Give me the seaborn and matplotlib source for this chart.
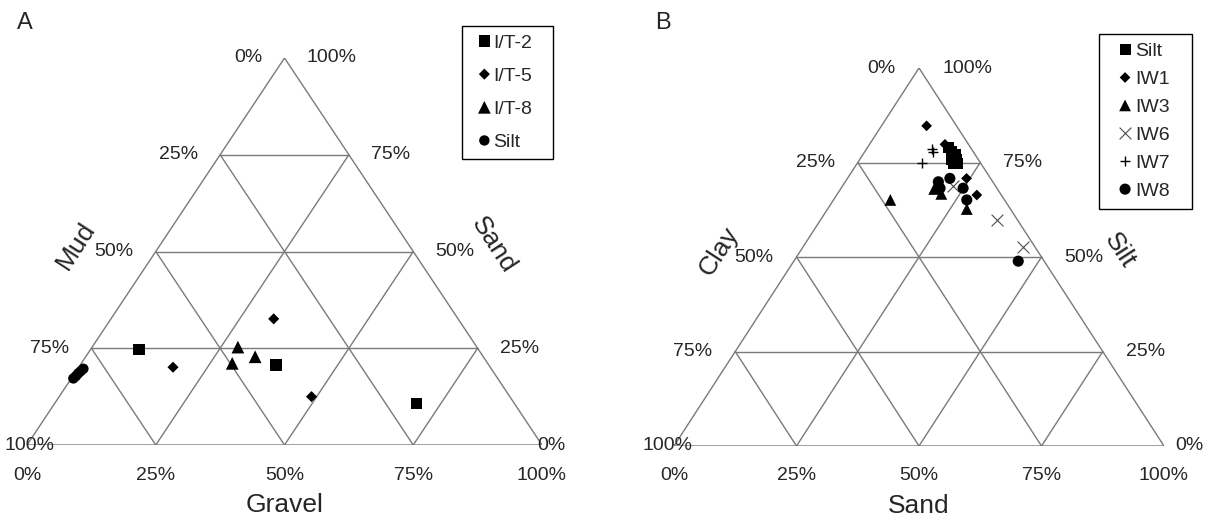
import matplotlib
matplotlib.use("Agg")
import matplotlib.pyplot as plt
import numpy as np
import pandas as pd
import seaborn as sns

# ---------------- Panel A: gravel / sand / mud (%) ----------------
it2_gravel = [9.4, 38.0, 70.3]
it2_sand = [24.7, 20.7, 10.8]
it2_mud = [65.9, 41.3, 18.9]

it5_gravel = [31.6, 18.3, 49.0]
it5_sand = [32.6, 20.1, 12.5]
it5_mud = [35.8, 61.6, 38.5]

it8_gravel = [28.3, 32.9, 29.3]
it8_sand = [25.3, 22.8, 21.1]
it8_mud = [46.4, 44.3, 49.6]

siltA_gravel = [0.4, 0.6, 0.7, 0.9, 1.1]
siltA_sand = [17.2, 17.8, 18.5, 19.1, 19.7]
siltA_mud = [82.4, 81.6, 80.8, 80.0, 79.2]

# ---------------- Panel B: sand / silt / clay (%) ----------------
siltB_sand = [16.5, 17.7, 18.9, 19.9, 18.8, 20.4, 19.6]
siltB_silt = [79.0, 77.9, 77.0, 75.7, 75.7, 74.8, 74.8]
siltB_clay = [4.5, 4.4, 4.1, 4.4, 5.5, 4.8, 5.6]

iw1_sand = [9.2, 15.4, 24.3, 28.6]
iw1_silt = [84.7, 79.8, 70.8, 66.4]
iw1_clay = [6.1, 4.8, 4.9, 5.0]

iw3_sand = [11.6, 19.1, 21.2, 28.4]
iw3_silt = [65.1, 68.0, 66.7, 62.7]
iw3_clay = [23.3, 12.9, 12.1, 8.9]

iw6_sand = [22.6, 35.9, 44.8]
iw6_silt = [68.8, 59.9, 52.7]
iw6_clay = [8.6, 4.2, 2.5]

iw7_sand = [13.3, 14.1, 13.2]
iw7_silt = [78.7, 77.7, 74.8]
iw7_clay = [8.0, 8.2, 12.0]

iw8_sand = [20.9, 19.0, 20.2, 24.9, 27.2, 45.8]
iw8_silt = [70.8, 69.9, 68.2, 68.2, 65.1, 48.9]
iw8_clay = [8.3, 11.1, 11.6, 6.9, 7.7, 5.3]

tick_pct = [0, 25, 50, 75, 100]
grid_pct = [25, 50, 75]

# ---------------- styling ----------------
sns.set_style("white")
plt.rcParams["font.family"] = ["Liberation Sans", "DejaVu Sans"]

W, H = 1207, 519
PT = 72 / 100            # points per pixel at 100 dpi
GRID = "#7a7a7a"
LW = 1.0
TICK_FS = 14
NAME_FS = 19
LEG_FS = 14


def ternary_xy(right, top, left):
    """Barycentric -> cartesian for a unit-base triangle (left, right, top vertices)."""
    right = np.asarray(right, float)
    top = np.asarray(top, float)
    left = np.asarray(left, float)
    total = right + top + left
    r, t = right / total, top / total
    return pd.DataFrame({"x": r + t / 2, "y": t})


def draw_frame(ax):
    ax.plot([0, 1, 0.5, 0], [0, 0, 1, 0], color=GRID, lw=LW, zorder=1)
    for p in grid_pct:
        t = p / 100
        ax.plot([t / 2, 1 - t / 2], [t, t], color=GRID, lw=LW, zorder=1)
        ax.plot([t, (1 + t) / 2], [0, 1 - t], color=GRID, lw=LW, zorder=1)
        ax.plot([1 - t, (1 - t) / 2], [0, 1 - t], color=GRID, lw=LW, zorder=1)
    ax.set_xlim(0, 1)
    ax.set_ylim(0, 1)
    ax.axis("off")


def label(ax, text, xy, dx, dy, ha="center", size=TICK_FS, rotation=0):
    ax.annotate(text, xy=xy, xytext=(dx * PT, -dy * PT), textcoords="offset points",
                ha=ha, va="center", fontsize=size, rotation=rotation,
                rotation_mode="anchor", annotation_clip=False)


def edge_labels(ax, side_gap, corner_left_dx, corner_right_dx, names, name_gap):
    for p in tick_pct:
        h = 1 - p / 100
        if p == 100:
            label(ax, f"{p}%", (0, 0), corner_left_dx, 0)
        else:
            label(ax, f"{p}%", (h / 2, h), -side_gap, 0, ha="right")
    for p in tick_pct:
        h = p / 100
        if p == 0:
            label(ax, f"{p}%", (1, 0), corner_right_dx, 0)
        else:
            label(ax, f"{p}%", (1 - h / 2, h), side_gap, 0, ha="left")
    for p in tick_pct:
        label(ax, f"{p}%", (p / 100, 0), 0, 30)
    left_name, right_name, bottom_name = names
    label(ax, left_name, (0.25, 0.5), -name_gap, -6, size=NAME_FS, rotation=57)
    label(ax, right_name, (0.75, 0.5), name_gap, -6, size=NAME_FS, rotation=-57)
    label(ax, bottom_name, (0.5, 0), 0, 60, size=NAME_FS)


def scatter(ax, df, marker, s, name, color="black", lw=0):
    sns.scatterplot(data=df, x="x", y="y", marker=marker, s=s, color=color,
                    linewidth=lw, edgecolor=color if lw else "none",
                    label=name, legend=False, ax=ax, zorder=3)


def add_legend(ax, left, top, width, pad, spacing, hlen, hpad):
    handles, labels = ax.get_legend_handles_labels()
    leg = ax.legend(handles, labels, loc="upper left",
                    bbox_to_anchor=(left / W, 1 - top / H, width / W, 0),
                    bbox_transform=ax.figure.transFigure, mode="expand",
                    borderaxespad=0, frameon=True, fancybox=False,
                    edgecolor="black", framealpha=1, fontsize=LEG_FS,
                    borderpad=pad, labelspacing=spacing, handlelength=hlen,
                    handletextpad=hpad, scatteryoffsets=[0.5])
    leg.get_frame().set_linewidth(1.0)


fig = plt.figure(figsize=(W / 100, H / 100), dpi=100)

# ---------------- Panel A ----------------
axA = fig.add_axes([27 / W, (H - 445) / H, 515 / W, 387 / H])
draw_frame(axA)
scatter(axA, ternary_xy(it2_gravel, it2_sand, it2_mud), "s", 66, "I/T-2")
scatter(axA, ternary_xy(it5_gravel, it5_sand, it5_mud), "D", 32, "I/T-5")
scatter(axA, ternary_xy(it8_gravel, it8_sand, it8_mud), "^", 84, "I/T-8")
scatter(axA, ternary_xy(siltA_gravel, siltA_sand, siltA_mud), "o", 56, "Silt")
edge_labels(axA, 22, 2, 9, ("Mud", "Sand", "Gravel"), 80)
add_legend(axA, 462, 26, 91, 0.42, 0.8, 1.46, -0.27)
fig.text(25 / W, 1 - 23 / H, "A", ha="center", va="center", fontsize=17)

# ---------------- Panel B ----------------
axB = fig.add_axes([674 / W, (H - 446) / H, 490 / W, 378 / H])
draw_frame(axB)
scatter(axB, ternary_xy(siltB_sand, siltB_silt, siltB_clay), "s", 62, "Silt")
scatter(axB, ternary_xy(iw1_sand, iw1_silt, iw1_clay), "D", 30, "IW1")
scatter(axB, ternary_xy(iw3_sand, iw3_silt, iw3_clay), "^", 72, "IW3")
scatter(axB, ternary_xy(iw6_sand, iw6_silt, iw6_clay), "x", 72, "IW6", color="#4d4d4d", lw=0.8)
scatter(axB, ternary_xy(iw7_sand, iw7_silt, iw7_clay), "+", 58, "IW7", lw=1.0)
scatter(axB, ternary_xy(iw8_sand, iw8_silt, iw8_clay), "o", 64, "IW8")
edge_labels(axB, 23, -7, 25, ("Clay", "Silt", "Sand"), 78)
add_legend(axB, 1099, 34, 93, 0.45, 0.53, 1.78, -0.375)
fig.text(663 / W, 1 - 23 / H, "B", ha="center", va="center", fontsize=17)

fig.savefig("out.png", dpi=100)
